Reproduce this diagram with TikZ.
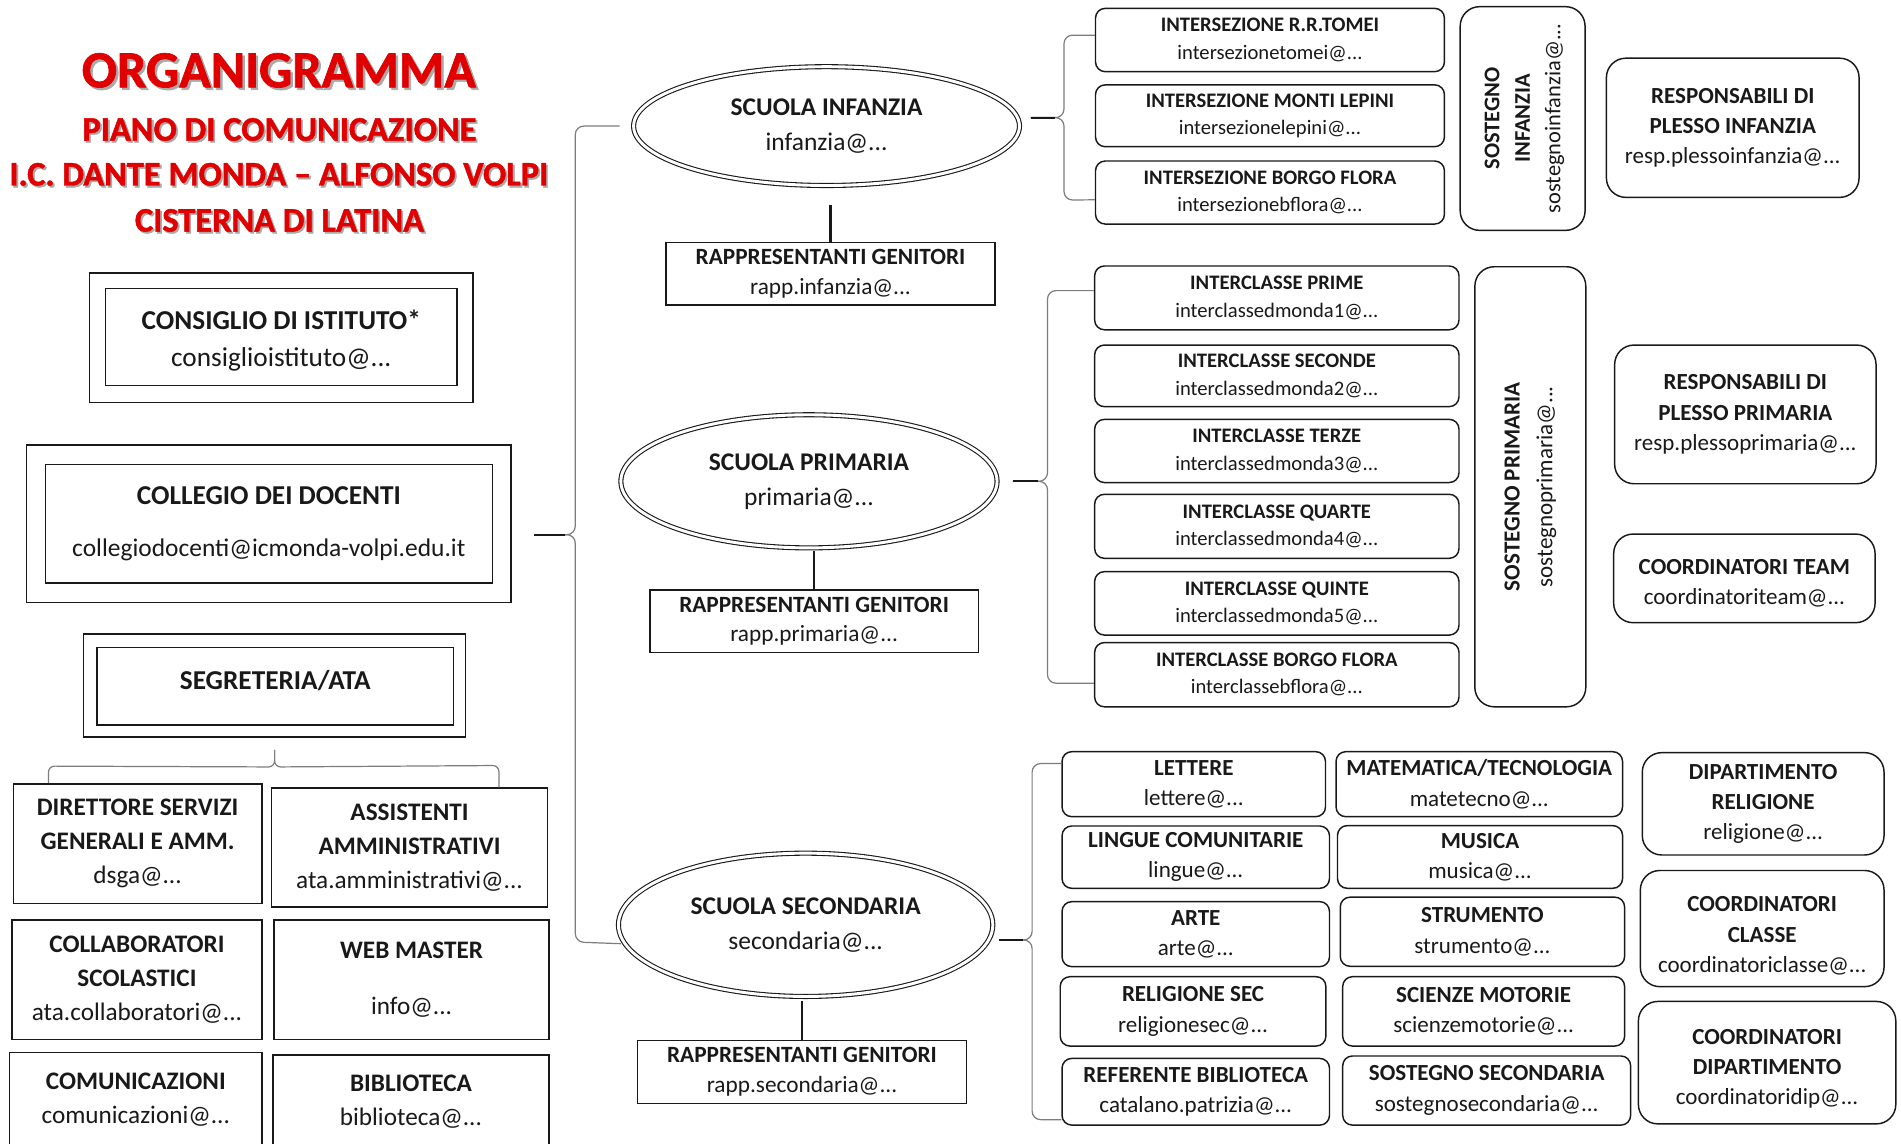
\documentclass[tikz,border=0pt]{standalone}
\usepackage{fontspec}
\setmainfont{Carlito}
\newfontfamily\heavyfont{Carlito}[Ligatures=TeX, BoldFeatures={FakeBold=1.3}]
\usetikzlibrary{shapes.geometric}
\definecolor{titred}{RGB}{224,0,0}
\definecolor{shadowgray}{RGB}{170,170,170}
\definecolor{linegray}{RGB}{125,125,125}
\definecolor{ink}{RGB}{25,25,25}
\newcommand\bx[7][]{\node[#1, minimum width={(#5-#3)*1pt}, minimum height={(#6-#4)*1pt}] (#2) at ({(#3+#5)/2},{(#4+#6)/2}) {#7};}
\tikzset{
 box/.style={draw=ink, line width=1.2pt, inner sep=1pt, align=center, rectangle, text=ink},
 rbox/.style={box, rounded corners=8pt},
 rbig/.style={box, rounded corners=16pt},
 ell/.style={ellipse, draw=ink, double, double distance=2.4pt, line width=0.9pt, inner sep=0pt, align=center, text=ink, font=\fontsize{21}{29}\selectfont},
 txt/.style={align=center, text=ink},
 fA/.style={font=\fontsize{17}{22.5}\selectfont},
 fB/.style={font=\fontsize{19}{25}\selectfont},
 fR/.style={font=\fontsize{19.2}{24}\selectfont},
 fL/.style={font=\fontsize{20.8}{28}\selectfont},
 fC/.style={font=\fontsize{22.5}{30.5}\selectfont},
 brc/.style={draw=linegray, line width=1pt, rounded corners=7pt},
 brtip/.style={draw=ink, line width=1.8pt},
 link/.style={draw=ink, line width=2pt},
 ttl/.style={text=titred, font=\heavyfont\bfseries\fontsize{#1}{#1}\selectfont, anchor=base, inner sep=0pt},
 shd/.style={text=shadowgray, font=\heavyfont\bfseries\fontsize{#1}{#1}\selectfont, anchor=base, inner sep=0pt},
}
\begin{document}
\begin{tikzpicture}[x=1pt,y=-1pt]
\useasboundingbox (0,0) rectangle (1568,943);
\fill[white] (0,0) rectangle (1568,943);
\clip (0,0) rectangle (1568,943);

% title
\node[shd=43] (s1) at (232,74) {ORGANIGRAMMA};
\node[ttl=43] (t1) at (230,72) {ORGANIGRAMMA};
\node[shd=28.4] (s2) at (232,117.5) {PIANO DI COMUNICAZIONE};
\node[ttl=28.4] (t2) at (230.5,116) {PIANO DI COMUNICAZIONE};
\node[shd=28.4] (s3) at (231.5,154.5) {I.C. DANTE MONDA – ALFONSO VOLPI};
\node[ttl=28.4] (t3) at (230,153) {I.C. DANTE MONDA – ALFONSO VOLPI};
\node[shd=28.4] (s4) at (232,192.5) {CISTERNA DI LATINA};
\node[ttl=28.4] (t4) at (230.5,191) {CISTERNA DI LATINA};

% left column
\bx[box]{consO}{74}{225}{390}{332}{}
\bx[box]{cons}{87}{238}{377}{318}{}
\node[txt,fC] (const) at ([yshift=-3pt]cons.center) {\textbf{CONSIGLIO DI ISTITUTO*}\\consiglioistituto@...};
\bx[box]{collO}{22}{367}{421.5}{497}{}
\bx[box,fC]{coll}{37.5}{383}{406}{481}{\textbf{COLLEGIO DEI DOCENTI}\\[12pt]{\fontsize{21}{28}\selectfont collegiodocenti@icmonda-volpi.edu.it}}
\bx[box]{segO}{69}{523}{384}{608}{}
\bx[box]{seg}{80}{534}{374}{598}{}
\node[txt,fC] (segt) at (227,561) {\textbf{SEGRETERIA/ATA}};

\bx[box,fL]{dsga}{11}{646.5}{216}{745}{\textbf{DIRETTORE SERVIZI}\\\textbf{GENERALI E AMM.}\\dsga@...}
\bx[box,fL]{assi}{224}{650}{451.6}{748}{\textbf{ASSISTENTI}\\\textbf{AMMINISTRATIVI}\\ata.amministrativi@...}
\bx[box,fL]{colla}{10}{759}{216}{857.6}{\textbf{COLLABORATORI}\\\textbf{SCOLASTICI}\\ata.collaboratori@...}
\bx[box,fL]{web}{226}{759}{453}{857.6}{\textbf{WEB MASTER}\\[18pt]info@...}
\bx[box,fL]{comu}{8}{868}{216}{946}{\textbf{COMUNICAZIONI}\\comunicazioni@...}
\bx[box,fL]{bibl}{225}{870}{453}{948}{\textbf{BIBLIOTECA}\\biblioteca@...}

% ATA brace
\coordinate (atop) at ([yshift=-10pt]segO.south);
\draw[brc, rounded corners=5pt] (atop) -- ++(0,14) -- ([xshift=-73.5pt,yshift=14pt]dsga.north) -- ([xshift=-73.5pt]dsga.north);
\draw[brc, rounded corners=5pt] (atop) -- ++(0,14) -- ([xshift=73.7pt,yshift=18pt]assi.north) -- ([xshift=73.7pt]assi.north);

% schools
\node[ell, minimum width=318.3pt, minimum height=98pt] (inf) at (681.75,104) {\textbf{SCUOLA INFANZIA}\\infanzia@...};
\node[ell, minimum width=310.3pt, minimum height=109.8pt] (pri) at (667.25,397) {\textbf{SCUOLA PRIMARIA}\\primaria@...};
\node[ell, minimum width=308.8pt, minimum height=118.2pt] (sec) at (664.5,762.8) {\textbf{SCUOLA SECONDARIA}\\secondaria@...};

\bx[box,fR]{rinf}{549.4}{200}{820.7}{251.6}{\textbf{RAPPRESENTANTI GENITORI}\\rapp.infanzia@...}
\bx[box,fR]{rpri}{536}{486.6}{807}{538.3}{\textbf{RAPPRESENTANTI GENITORI}\\rapp.primaria@...}
\bx[box,fR]{rsec}{526}{858}{797}{910}{\textbf{RAPPRESENTANTI GENITORI}\\rapp.secondaria@...}

\draw[link, shorten >=16pt] (rinf.north) -- (rinf.north |- inf.south);
\draw[link, shorten >=2pt] (rpri.north) -- (rpri.north |- pri.south);
\draw[link, shorten >=3pt] (rsec.north) -- (rsec.north |- sec.south);

% big brace
\coordinate (bt) at (440.5,441);
\draw[brc, shorten >=11pt] (bt) -- (474.5,441) -- (474.5,104) -- (inf.west);
\draw[brc, shorten >=3pt] (bt) -- (474.5,441) -- (474.5,777) -- (sec.186);
\draw[brtip] (bt) -- (466,441);

% infanzia
\bx[rbox,fA]{tomei}{903.6}{6.9}{1191.4}{59.1}{\textbf{INTERSEZIONE R.R.TOMEI}\\intersezionetomei@...}
\bx[rbox,fA]{lepini}{903.6}{70}{1191.4}{121}{\textbf{INTERSEZIONE MONTI LEPINI}\\intersezionelepini@...}
\bx[rbox,fA]{ibf}{903.6}{132.8}{1191.4}{184.8}{\textbf{INTERSEZIONE BORGO FLORA}\\intersezionebflora@...}
\bx[rbig]{sinf}{1204.4}{5.5}{1307.4}{190}{}
\node[txt, rotate=90, font=\fontsize{18.5}{25.2}\selectfont] (sinft) at ([xshift=1.5pt]sinf.center) {\textbf{SOSTEGNO}\\\textbf{INFANZIA}\\sostegnoinfanzia@...};
\bx[rbig,fB]{rinfr}{1325}{48}{1533.4}{162.8}{\textbf{RESPONSABILI DI}\\\textbf{PLESSO INFANZIA}\\resp.plessoinfanzia@...}

\coordinate (it) at (850,97);
\draw[brc] (it) -- (877.6,97) -- (877.6,29) -- ([yshift=4pt]tomei.west);
\draw[brc] (it) -- (877.6,97) -- (877.6,165) -- ([yshift=-6pt]ibf.west);
\draw[brtip] (it) -- (870,97);

% primaria
\bx[rbox,fA]{p1}{902.9}{219.4}{1203.4}{272}{\textbf{INTERCLASSE PRIME}\\interclassedmonda1@...}
\bx[rbox,fA]{p2}{902.9}{284.6}{1203.4}{335.4}{\textbf{INTERCLASSE SECONDE}\\interclassedmonda2@...}
\bx[rbox,fA]{p3}{902.9}{345.9}{1203.4}{398}{\textbf{INTERCLASSE TERZE}\\interclassedmonda3@...}
\bx[rbox,fA]{p4}{902.9}{407.7}{1203.4}{460.5}{\textbf{INTERCLASSE QUARTE}\\interclassedmonda4@...}
\bx[rbox,fA]{p5}{902.9}{471.5}{1203.4}{523.8}{\textbf{INTERCLASSE QUINTE}\\interclassedmonda5@...}
\bx[rbox,fA]{pbf}{902.9}{530}{1203.4}{583}{\textbf{INTERCLASSE BORGO FLORA}\\interclassebflora@...}
\bx[rbig]{spri}{1216.5}{220}{1308}{583}{}
\node[txt, rotate=90, font=\fontsize{19}{27}\selectfont] (sprit) at (spri.center) {\textbf{SOSTEGNO PRIMARIA}\\sostegnoprimaria@...};
\bx[rbig,fB]{rprir}{1331.8}{284.6}{1547.4}{399}{\textbf{RESPONSABILI DI}\\\textbf{PLESSO PRIMARIA}\\resp.plessoprimaria@...}
\bx[rbig]{cteam}{1331}{440.5}{1546.6}{513.6}{}
\node[txt,fB] (cteamt) at ([yshift=-4pt]cteam.center) {\textbf{COORDINATORI TEAM}\\coordinatoriteam@...};

\coordinate (pt) at (835.5,397);
\draw[brc] (pt) -- (864,397) -- (864,239.7) -- ([yshift=6pt]p1.west);
\draw[brc] (pt) -- (864,397) -- (864,563.5) -- ([yshift=-7pt]pbf.west);
\draw[brtip] (pt) -- (856,397);

% secondaria
\bx[rbox,fB]{lett}{876}{620}{1093.3}{673.6}{\textbf{LETTERE}\\lettere@...}
\bx[rbox,fB]{ling}{876}{681.3}{1096.6}{732.7}{\textbf{LINGUE COMUNITARIE}\\lingue@...}
\bx[rbox,fB]{arte}{876}{743.7}{1096.6}{797.3}{\textbf{ARTE}\\arte@...}
\bx[rbox,fB]{rels}{874.5}{805.6}{1093.6}{862.8}{\textbf{RELIGIONE SEC}\\religionesec@...}
\bx[rbox,fB]{refb}{876}{873}{1096.6}{928}{\textbf{REFERENTE BIBLIOTECA}\\catalano.patrizia@...}
\bx[rbox,fB]{mate}{1102}{620}{1338.3}{673.6}{\textbf{MATEMATICA/TECNOLOGIA}\\matetecno@...}
\bx[rbox,fB]{musi}{1103.2}{681}{1338.3}{732.7}{\textbf{MUSICA}\\musica@...}
\bx[rbox,fB]{stru}{1105.5}{740}{1340}{797}{\textbf{STRUMENTO}\\strumento@...}
\bx[rbox,fB]{scmo}{1107.5}{805.6}{1340}{862.8}{\textbf{SCIENZE MOTORIE}\\scienzemotorie@...}
\bx[rbox,fB]{sost}{1107.5}{871}{1345}{928}{\textbf{SOSTEGNO SECONDARIA}\\sostegnosecondaria@...}
\bx[rbig,fB]{dipr}{1354.6}{620.8}{1554}{705.2}{\textbf{DIPARTIMENTO}\\\textbf{RELIGIONE}\\religione@...}
\bx[rbig]{ccla}{1353}{718}{1554}{813.8}{}
\node[txt,fB] (cclat) at ([yshift=-6pt]ccla.center) {\textbf{COORDINATORI}\\\textbf{CLASSE}\\coordinatoriclasse@...};
\bx[rbig]{cdip}{1351.4}{826}{1563.7}{927}{}
\node[txt,fB] (cdipt) at ([yshift=-5pt]cdip.center) {\textbf{COORDINATORI}\\\textbf{DIPARTIMENTO}\\coordinatoridip@...};

\coordinate (st) at (824.4,775.3);
\draw[brc] (st) -- (851.3,775.3) -- (851.3,629.8) -- ([yshift=17pt]lett.west);
\draw[brc] (st) -- (851.3,775.3) -- (851.3,923.5) -- ([yshift=-23pt]refb.west);
\draw[brtip] (st) -- (844,775.3);
\end{tikzpicture}
\end{document}
